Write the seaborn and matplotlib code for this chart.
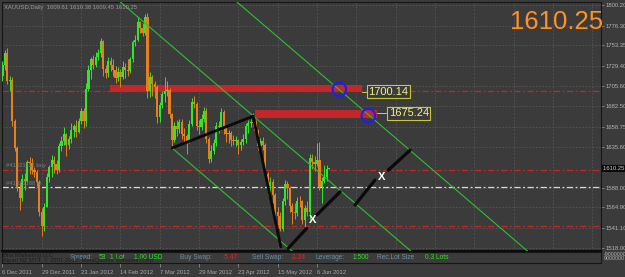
import numpy as np
import pandas as pd
import matplotlib
matplotlib.use("Agg")
import matplotlib.pyplot as plt
import matplotlib.transforms as mtrans
import seaborn as sns

# ---------------- data ----------------
symbol_header = "XAUUSD,Daily"
header_ohlc = ["1609.61", "1610.38", "1609.45", "1610.25"]
current_price = 1610.25
first_day, last_day = "2011-12-06", "2012-06-13"
holidays = ["2011-12-26", "2012-01-02", "2012-04-06"]

opens = [1718, 1730, 1745, 1712, 1713, 1665, 1634, 1588, 1576, 1598,
         1596, 1618, 1617, 1608, 1606, 1594, 1560, 1543, 1566, 1600,
         1612, 1620, 1616, 1608, 1636, 1642, 1650, 1637, 1645, 1655,
         1660, 1653, 1665, 1677, 1665, 1703, 1725, 1737, 1731, 1740,
         1745, 1758, 1726, 1721, 1735, 1730, 1725, 1715, 1722, 1717,
         1728, 1725, 1723, 1737, 1757, 1760, 1780, 1774, 1768, 1786,
         1700, 1716, 1708, 1705, 1670, 1684, 1697, 1700, 1702, 1673,
         1643, 1660, 1656, 1664, 1650, 1648, 1642, 1662, 1688, 1685,
         1660, 1658, 1668, 1677, 1645, 1621, 1630, 1640, 1660, 1658,
         1676, 1657, 1650, 1651, 1643, 1642, 1643, 1637, 1641, 1645,
         1660, 1663, 1664, 1663, 1654, 1636, 1642, 1638, 1604, 1590,
         1594, 1580, 1560, 1555, 1540, 1572, 1592, 1588, 1567, 1560,
         1558, 1573, 1572, 1550, 1564, 1560, 1622, 1618, 1616, 1620,
         1589, 1596, 1600, 1609.61]
highs = [1735, 1748, 1750, 1718, 1716, 1668, 1636, 1595, 1604, 1605,
         1620, 1624, 1622, 1612, 1609, 1597, 1564, 1570, 1605, 1614,
         1626, 1625, 1620, 1640, 1648, 1658, 1652, 1648, 1663, 1662,
         1667, 1669, 1681, 1680, 1709, 1730, 1740, 1742, 1746, 1749,
         1762, 1760, 1730, 1740, 1740, 1737, 1729, 1728, 1726, 1735,
         1733, 1737, 1740, 1760, 1765, 1786, 1782, 1779, 1790, 1791,
         1722, 1719, 1712, 1707, 1688, 1700, 1717, 1712, 1704, 1675,
         1664, 1666, 1668, 1668, 1657, 1650, 1666, 1692, 1695, 1687,
         1667, 1673, 1682, 1680, 1647, 1637, 1645, 1664, 1665, 1680,
         1678, 1660, 1655, 1654, 1649, 1648, 1645, 1645, 1650, 1663,
         1667, 1668, 1675, 1667, 1656, 1646, 1647, 1640, 1606, 1600,
         1598, 1582, 1566, 1560, 1576, 1597, 1596, 1590, 1570, 1570,
         1577, 1578, 1574, 1568, 1572, 1627, 1627, 1625, 1640, 1641,
         1600, 1614, 1614, 1610.38]
lows = [1712, 1725, 1708, 1700, 1660, 1630, 1584, 1562, 1573, 1585,
        1594, 1604, 1604, 1600, 1590, 1555, 1532, 1538, 1565, 1595,
        1600, 1605, 1604, 1606, 1630, 1638, 1625, 1633, 1640, 1647,
        1647, 1651, 1662, 1657, 1660, 1700, 1714, 1726, 1728, 1736,
        1740, 1718, 1715, 1717, 1724, 1718, 1709, 1712, 1705, 1714,
        1715, 1718, 1721, 1734, 1752, 1758, 1768, 1764, 1765, 1692,
        1693, 1695, 1692, 1663, 1664, 1681, 1688, 1695, 1669, 1636,
        1641, 1648, 1651, 1644, 1640, 1627, 1640, 1660, 1680, 1655,
        1650, 1655, 1664, 1640, 1617, 1618, 1627, 1636, 1652, 1655,
        1650, 1641, 1640, 1636, 1637, 1636, 1627, 1632, 1637, 1640,
        1652, 1658, 1660, 1648, 1632, 1625, 1632, 1600, 1580, 1582,
        1570, 1554, 1545, 1538, 1538, 1568, 1575, 1560, 1546, 1552,
        1555, 1566, 1546, 1540, 1555, 1550, 1610, 1607, 1613, 1585,
        1570, 1593, 1596, 1609.45]
closes = [1730, 1745, 1712, 1713, 1665, 1634, 1588, 1576, 1598, 1596,
          1618, 1617, 1608, 1606, 1594, 1560, 1543, 1566, 1600, 1612,
          1620, 1616, 1608, 1636, 1642, 1650, 1637, 1645, 1655, 1660,
          1653, 1665, 1677, 1665, 1703, 1725, 1737, 1731, 1740, 1745,
          1758, 1726, 1721, 1735, 1730, 1725, 1715, 1722, 1717, 1728,
          1725, 1723, 1737, 1757, 1760, 1780, 1774, 1768, 1786, 1700,
          1716, 1708, 1705, 1670, 1684, 1697, 1700, 1702, 1673, 1643,
          1660, 1656, 1664, 1650, 1648, 1642, 1662, 1688, 1685, 1660,
          1658, 1668, 1677, 1645, 1621, 1630, 1640, 1660, 1658, 1676,
          1657, 1650, 1651, 1643, 1642, 1643, 1637, 1641, 1645, 1660,
          1663, 1664, 1663, 1654, 1636, 1642, 1638, 1604, 1590, 1594,
          1580, 1560, 1555, 1540, 1572, 1592, 1588, 1567, 1560, 1558,
          1573, 1572, 1550, 1564, 1560, 1622, 1618, 1616, 1620, 1589,
          1596, 1600, 1609.6, 1610.25]

date_labels = ["6 Dec 2011", "29 Dec 2011", "23 Jan 2012", "14 Feb 2012",
               "7 Mar 2012", "29 Mar 2012", "23 Apr 2012", "15 May 2012",
               "6 Jun 2012"]
price_labels = [1800.20, 1776.30, 1753.35, 1729.40, 1705.60, 1682.50,
                1658.75, 1635.60, 1588.00, 1564.90, 1541.10, 1518.00]

# order / level lines
order_levels = [1700.14, 1608.5, 1588.4, 1543.0]
order_colors = ["#c62626", "#c62626", "#d8d8d8", "#c62626"]
order_tags = ["", "#41321111 buy", "#41321188 sl", ""]

# resistance zones
zone_start = [43.8, 102.8]
zone_end = [146.2, 152.3]
zone_low = [1699.3, 1668.5]
zone_high = [1707.5, 1678.2]
zone_text = ["1700.14", "1675.24"]
zone_text_bar = [148.4, 156.6]
zone_text_price = [1699.6, 1674.4]

# channel lines (bar index, price)
channel_id = ["mid", "mid", "upper", "upper", "lower", "lower"]
channel_bar = [45, 170, 90, 215, 69, 118]
channel_price = [1811, 1505, 1817, 1511, 1634, 1514]

# wave lines
wave_bar = [69, 102, 113.3]
wave_price = [1634, 1671, 1519]

# projected path segments
proj_id = ["a", "a", "b", "b", "c", "c", "d", "d"]
proj_bar = [116.3, 123.8, 127.9, 137.4, 143.5, 151.6, 157.0, 165.9]
proj_price = [1517.5, 1540.7, 1556.2, 1583.1, 1567.8, 1596.8, 1608.3, 1631.5]
x_mark_bar = [126.4, 154.5]
x_mark_price = [1550.4, 1600.3]

# touch circles
circle_bar = [137.1, 148.9]
circle_price = [1702.2, 1671.6]

info_items = [("Spread:", "lbl"), ("53", "g"), ("1 Lot", "g"), ("1.00 USD", "g"),
              ("Buy Swap:", "lbl"), ("-5.47", "r"), ("Sell Swap:", "lbl"),
              ("-1.24", "r"), ("Leverage:", "lbl"), ("1:500", "g"),
              ("Rec.Lot Size", "lbl"), ("0.3 Lots", "g")]
info_px = [70, 99, 110, 134, 180, 223, 252, 291, 315, 353, 377, 425]

# ---------------- style ----------------
bg = "#3b3b3b"
sns.set_theme(style="dark", rc={"axes.facecolor": bg, "figure.facecolor": bg,
                                "savefig.facecolor": bg})
plt.rcParams["font.family"] = ["Liberation Sans", "DejaVu Sans"]

W, H = 625, 277
fig = plt.figure(figsize=(W / 100, H / 100), dpi=100)


def rect(x0, y0, x1, y1):
    return [x0 / W, 1 - y1 / H, (x1 - x0) / W, (y1 - y0) / H]


ax = fig.add_axes(rect(2, 2, 601, 251))
ax2 = fig.add_axes(rect(2, 252, 601, 263))
for a in (ax, ax2):
    a.set_facecolor(bg)
    for s in a.spines.values():
        s.set_color("#161616")
        s.set_linewidth(0.8)
ax.spines["bottom"].set_linewidth(1.6)
ax.spines["bottom"].set_color("#0c0c0c")

dates = pd.bdate_range(first_day, last_day)
dates = dates[~dates.isin(pd.to_datetime(holidays))]
df = pd.DataFrame({"date": dates, "open": opens, "high": highs,
                   "low": lows, "close": closes})
df["bar"] = np.arange(len(df))
lab_dates = pd.to_datetime(date_labels, format="%d %b %Y")
label_bars = [int(df.index[df.date == d][0]) for d in lab_dates]

xmin, xmax = -0.2, 243.6
ymin, ymax = 1514.35, 1803.7

# grid
grid_kw = dict(color="#565656", lw=0.6, ls=(0, (2, 2)), zorder=0)
for b in range(0, 241, 16):
    ax.axvline(b, **grid_kw)
for p in price_labels:
    ax.axhline(p, **grid_kw)

# order lines
for lvl, col in zip(order_levels, order_colors):
    ax.axhline(lvl, color=col, lw=0.9, ls=(0, (5, 2, 1.5, 2)), zorder=1)
for lvl, tag in zip(order_levels, order_tags):
    if tag:
        ax.text(1.5, lvl + 2.0, tag, fontsize=4.2, color="#7c7c7c",
                va="bottom", ha="left", zorder=6)

# zones
for s0, s1, lo, hi in zip(zone_start, zone_end, zone_low, zone_high):
    ax.add_patch(plt.Rectangle((s0, lo), s1 - s0, hi - lo, color="#c3272a",
                               lw=0, zorder=2))

# candles
up = df.close >= df.open
cols = np.where(up, "#30e82a", "#e5801f")
ax.vlines(df.bar, df.low, df.high, colors=cols, lw=0.7, zorder=3)
body = (df.close - df.open).abs().clip(lower=1.0)
ax.bar(df.bar, body, bottom=df[["open", "close"]].min(axis=1), width=0.88,
       color=cols, linewidth=0, zorder=3)

# channel lines
ch = pd.DataFrame({"bar": channel_bar, "price": channel_price, "line": channel_id})
sns.lineplot(data=ch, x="bar", y="price", units="line", estimator=None,
             sort=False, color="#2fbf2f", lw=0.8, ax=ax, legend=False, zorder=4)

# wave and projections
wv = pd.DataFrame({"bar": wave_bar, "price": wave_price})
sns.lineplot(data=wv, x="bar", y="price", estimator=None, sort=False,
             color="#0a0a0a", lw=2.0, ax=ax, zorder=5)
pj = pd.DataFrame({"bar": proj_bar, "price": proj_price, "seg": proj_id})
sns.lineplot(data=pj, x="bar", y="price", units="seg", estimator=None,
             sort=False, color="#0a0a0a", lw=2.3, ax=ax, legend=False, zorder=5)
for b, p in zip(x_mark_bar, x_mark_price):
    ax.text(b, p, "X", color="white", fontsize=8, fontweight="bold",
            ha="center", va="center", zorder=7)

# circles
sns.scatterplot(x=circle_bar, y=circle_price, s=95, marker="o",
                facecolor="none", edgecolor="#1c1cff", linewidth=1.5,
                ax=ax, zorder=6)

# zone labels
for s1, tb, tp, txt, lvl in zip(zone_end, zone_text_bar, zone_text_price,
                                zone_text, zone_low):
    ax.plot([s1, tb - 0.4], [tp, tp], color="#cfcf60", lw=0.7, zorder=6)
    ax.text(tb + 0.6, tp, txt, fontsize=8, color="#f2f28a", va="center",
            ha="left", zorder=7,
            bbox=dict(boxstyle="square,pad=0.12", fc=bg, ec="#c8c83a", lw=0.8))

ax.set_xlim(xmin, xmax)
ax.set_ylim(ymin, ymax)
ax.set_xlabel("")
ax.set_ylabel("")
ax.set_xticks([])
ax.yaxis.tick_right()
ax.set_yticks(price_labels)
ax.set_yticklabels([f"{p:.2f}" for p in price_labels])
ax.tick_params(axis="y", which="both", right=True, length=2.2, width=0.5,
               color="#9a9a9a", labelsize=4.2, labelcolor="#b4b4b4", pad=1)

# current price marker
trans = mtrans.blended_transform_factory(ax.transAxes, ax.transData)
ax.text(1.004, current_price, f"{current_price:.2f}  ", transform=trans,
        fontsize=4.2, color="#d0d0d0", va="center", ha="left", zorder=8,
        bbox=dict(boxstyle="square,pad=0.25", fc="#0a0a0a", ec="none"),
        clip_on=False)

# big price
fig.text(603 / W, 1 - 10 / H, f"{current_price:.2f}", fontsize=18.5,
         color="#ff9222", ha="right", va="top")
# header
fig.text(4 / W, 1 - 7 / H,
         f"{symbol_header}  " + " ".join(header_ohlc),
         fontsize=4.2, color="#9a9a9a", ha="left", va="center")

# bottom strip
ax2.set_xlim(xmin, xmax)
ax2.set_ylim(0, 1)
ax2.set_yticks([])
ax2.set_xticks(label_bars)
ax2.set_xticklabels(date_labels, ha="left")
ax2.tick_params(axis="x", direction="out", length=3, width=0.5, color="#9a9a9a",
                labelsize=4.2, labelcolor="#a8a8a8", pad=1.8, bottom=True)
for lab in ax2.get_xticklabels():
    lab.set_horizontalalignment("left")
info_col = {"lbl": "#6d90a4", "g": "#2fe02a", "r": "#f02020"}
for (txt, kind), px in zip(info_items, info_px):
    fig.text(px / W, 1 - 257.5 / H, txt, fontsize=4.8, color=info_col[kind],
             ha="left", va="center")
fig.text(3 / W, 1 - 255 / H, "Bna Marketing LLC", fontsize=4.2,
         color="#1e1e1e", ha="left", va="center")
fig.text(3 / W, 1 - 260.5 / H,
         "Alpari NZ MT4, \u00a9 2001-2012, MetaQuotes Software Corp.",
         fontsize=4.2, color="#1e1e1e", ha="left", va="center")
fig.text(604 / W, 1 - 254.5 / H, "-9000000", fontsize=3.8, color="#b4b4b4",
         ha="left", va="center")
fig.text(604 / W, 1 - 259 / H, "9000000", fontsize=3.8, color="#b4b4b4",
         ha="left", va="center")

fig.savefig("out.png", dpi=100, facecolor=bg)
